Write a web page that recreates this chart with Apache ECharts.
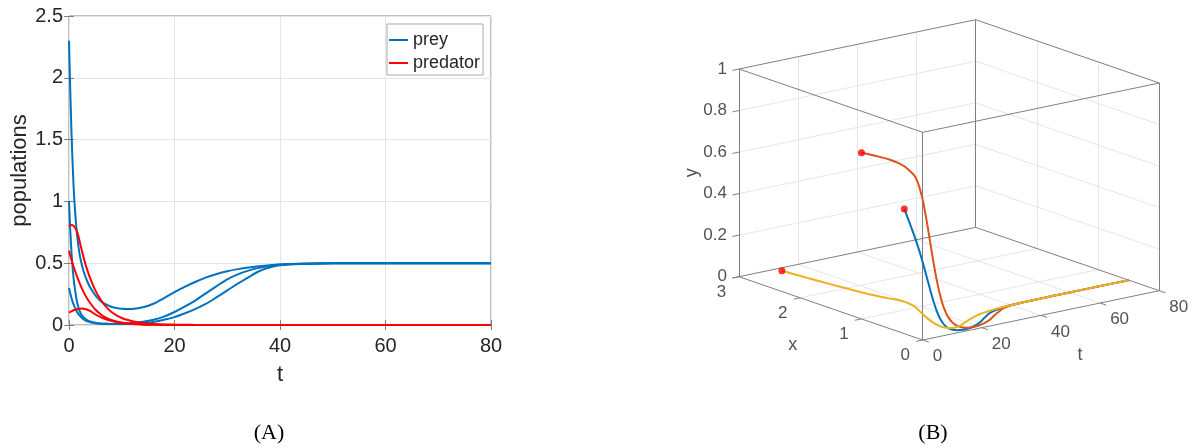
<!DOCTYPE html>
<html>
<head>
<meta charset="utf-8">
<script src="https://cdn.jsdelivr.net/npm/echarts@6/dist/echarts.min.js"></script>
<style>
  html, body { margin: 0; padding: 0; background: #ffffff; }
  #chart { width: 1193px; height: 448px; }
</style>
</head>
<body>
<div id="chart"></div>
<script>
// Sample times of the simulated trajectories
const t = [0, 0.25, 0.5, 0.75, 1, 1.5, 2, 2.5, 3, 3.5, 4, 5, 6, 7, 8, 9, 10, 11, 12,
           14, 16, 18, 20, 22, 24, 26, 28, 30, 32, 34, 36, 38, 40, 45, 50, 60, 70, 80];

// Prey populations, one array per initial condition
const preyA = [2.3, 1.88, 1.52, 1.24, 1.02, 0.74, 0.575, 0.475, 0.405, 0.35, 0.305, 0.24, 0.195, 0.166, 0.148, 0.137, 0.131, 0.129, 0.13,
               0.143, 0.172, 0.218, 0.265, 0.31, 0.35, 0.385, 0.413, 0.435, 0.452, 0.466, 0.476, 0.484, 0.489, 0.496, 0.499, 0.5, 0.5, 0.5];
const preyB = [1.0, 0.76, 0.57, 0.43, 0.33, 0.19, 0.115, 0.075, 0.052, 0.038, 0.029, 0.018, 0.012, 0.0095, 0.008, 0.0075, 0.0075, 0.008, 0.009,
               0.014, 0.025, 0.042, 0.064, 0.095, 0.13, 0.172, 0.225, 0.28, 0.335, 0.385, 0.435, 0.465, 0.483, 0.494, 0.499, 0.5, 0.5, 0.5];
const preyC = [0.3, 0.255, 0.215, 0.18, 0.152, 0.108, 0.077, 0.055, 0.04, 0.03, 0.023, 0.015, 0.011, 0.0095, 0.009, 0.0095, 0.011, 0.013, 0.016,
               0.026, 0.042, 0.068, 0.105, 0.15, 0.2, 0.258, 0.315, 0.37, 0.41, 0.44, 0.462, 0.478, 0.489, 0.497, 0.5, 0.5, 0.5, 0.5];

// Predator populations, same initial conditions
const predA = [0.1, 0.106, 0.112, 0.117, 0.121, 0.127, 0.132, 0.133, 0.13, 0.123, 0.114, 0.085, 0.063, 0.046, 0.034, 0.024, 0.017, 0.012, 0.0085,
               0.0042, 0.002, 0.001, 0.0005, 0.0003, 0.0002, 0.0001, 0, 0, 0, 0, 0, 0, 0, 0, 0, 0, 0, 0];
const predB = [0.8, 0.807, 0.81, 0.806, 0.796, 0.76, 0.68, 0.59, 0.51, 0.44, 0.38, 0.28, 0.205, 0.148, 0.107, 0.078, 0.057, 0.042, 0.031,
               0.017, 0.009, 0.005, 0.003, 0.0015, 0.001, 0.0005, 0.0003, 0.0002, 0.0001, 0, 0, 0, 0, 0, 0, 0, 0, 0];
const predC = [0.6, 0.56, 0.522, 0.487, 0.455, 0.395, 0.34, 0.29, 0.248, 0.21, 0.178, 0.125, 0.087, 0.06, 0.041, 0.028, 0.02, 0.014, 0.01,
               0.005, 0.0025, 0.0012, 0.0006, 0.0003, 0.0002, 0.0001, 0, 0, 0, 0, 0, 0, 0, 0, 0, 0, 0, 0];

// Tick values
const tTicks = [0, 20, 40, 60, 80];
const popTicks = [0, 0.5, 1, 1.5, 2, 2.5];
const xTicks3 = [0, 1, 2, 3];
const yTicks3 = [0, 0.2, 0.4, 0.6, 0.8, 1];
const tTicks3 = [0, 20, 40, 60, 80];

const FONT = '"Liberation Sans", Arial, Helvetica, sans-serif';
const SERIF = '"Liberation Serif", "Times New Roman", serif';
const INK = '#262626';
const FRAME = '#808080';
const GRID_C = '#e6e6e6';
const BLUE = '#0072BD', RED = '#FF0000', ORANGE = '#D95319', YELLOW = '#EDB120';

const pairs = (ys) => t.map((ti, i) => [ti, ys[i]]);

// ---- 3-D box: oblique projection of (t, x, y) onto the page ----
const T_MAX = 80, X_MAX = 3, Y_MAX = 1;
const corner0 = [922.7, 340];    // t = 0, x = 0, y = 0
const cornerT = [1159.3, 290.7]; // t = T_MAX
const cornerX = [739, 276.7];    // x = X_MAX
const boxHeight = 207.7;         // y = Y_MAX
function proj(tv, xv, yv) {
  return [
    corner0[0] + (cornerT[0] - corner0[0]) * tv / T_MAX + (cornerX[0] - corner0[0]) * xv / X_MAX,
    corner0[1] + (cornerT[1] - corner0[1]) * tv / T_MAX + (cornerX[1] - corner0[1]) * xv / X_MAX - boxHeight * yv / Y_MAX
  ];
}
const seg = (a, b) => ({ coords: [proj(...a), proj(...b)] });

// box edges
const edges = [];
for (const y of [0, Y_MAX]) {
  edges.push(seg([0, 0, y], [T_MAX, 0, y]), seg([0, 0, y], [0, X_MAX, y]),
             seg([T_MAX, 0, y], [T_MAX, X_MAX, y]), seg([0, X_MAX, y], [T_MAX, X_MAX, y]));
}
for (const [tv, xv] of [[0, 0], [T_MAX, 0], [0, X_MAX], [T_MAX, X_MAX]]) {
  edges.push(seg([tv, xv, 0], [tv, xv, Y_MAX]));
}

// grid lines on the two back walls and the floor
const gridSegs = [];
const innerY = yTicks3.filter(v => v > 0 && v < Y_MAX);
const innerX = xTicks3.filter(v => v > 0 && v < X_MAX);
const innerT = tTicks3.filter(v => v > 0 && v < T_MAX);
innerY.forEach(y => { gridSegs.push(seg([0, X_MAX, y], [T_MAX, X_MAX, y]), seg([T_MAX, 0, y], [T_MAX, X_MAX, y])); });
innerT.forEach(tv => { gridSegs.push(seg([tv, X_MAX, 0], [tv, X_MAX, Y_MAX]), seg([tv, 0, 0], [tv, X_MAX, 0])); });
innerX.forEach(xv => { gridSegs.push(seg([T_MAX, xv, 0], [T_MAX, xv, Y_MAX]), seg([0, xv, 0], [T_MAX, xv, 0])); });

// tick marks
const tickSegs = [];
yTicks3.forEach(v => tickSegs.push(seg([0, X_MAX, v], [-2.2, X_MAX, v])));
xTicks3.forEach(v => tickSegs.push(seg([0, v, 0], [-2.2, v, 0])));
tTicks3.forEach(v => tickSegs.push(seg([v, 0, 0], [v, -0.1, 0])));

const labelPoint = (p, text, extra) => ({ value: p, label: Object.assign({ formatter: text }, extra) });
const tickLabels = [];
yTicks3.forEach(v => tickLabels.push(labelPoint(proj(0, X_MAX, v), String(v), { position: [-12, 0], align: 'right', verticalAlign: 'middle' })));
xTicks3.forEach(v => tickLabels.push(labelPoint(proj(0, v, 0), String(v), { position: [-17.5, 15.3], align: 'center', verticalAlign: 'middle' })));
tTicks3.forEach(v => tickLabels.push(labelPoint(proj(v, 0, 0), String(v), { position: [10, 16.5], align: 'left', verticalAlign: 'middle' })));
tickLabels.push(labelPoint(proj(0, X_MAX, Y_MAX / 2), 'y', { position: [-47, 0], align: 'center', verticalAlign: 'middle', rotate: 90, fontSize: 18 }));
tickLabels.push(labelPoint(proj(0, X_MAX / 2, 0), 'x', { position: [-38, 36.7], align: 'center', verticalAlign: 'middle', fontSize: 18 }));
tickLabels.push(labelPoint(proj(T_MAX / 2, 0, 0), 't', { position: [39, 39.6], align: 'center', verticalAlign: 'middle', fontSize: 18 }));

const path3 = (prey, pred) => t.map((ti, i) => proj(ti, prey[i], pred[i]));
const starts3 = [[preyC, predC], [preyB, predB], [preyA, predA]].map(([x, y]) => proj(0, x[0], y[0]));

const curve2 = (name, ys, color) => ({
  type: 'line', name, data: pairs(ys), xAxisIndex: 0, yAxisIndex: 0,
  symbol: 'none', smooth: 0.3, lineStyle: { color, width: 2 }, itemStyle: { color }, z: 3
});
const curve3 = (name, prey, pred, color) => ({
  type: 'line', name, data: path3(prey, pred), xAxisIndex: 2, yAxisIndex: 2,
  symbol: 'none', smooth: 0.3, lineStyle: { color, width: 2 }, itemStyle: { color }, z: 4
});

const chart = echarts.init(document.getElementById('chart'));
chart.setOption({
  animation: false,
  backgroundColor: '#ffffff',
  textStyle: { fontFamily: FONT },
  grid: [
    { left: 69, top: 16, width: 422, height: 309, show: true, borderColor: FRAME, borderWidth: 1, backgroundColor: '#fff' },
    { left: 0, top: 0, width: 1193, height: 448, show: false }
  ],
  xAxis: [
    { type: 'value', gridIndex: 0, min: 0, max: 80, interval: 20, name: 't', nameLocation: 'middle', nameGap: 39,
      nameTextStyle: { fontSize: 22, color: INK, fontFamily: FONT },
      axisLine: { show: false }, axisTick: { inside: true, length: 5, lineStyle: { color: FRAME } },
      axisLabel: { fontSize: 20, color: INK, margin: 11, fontFamily: FONT },
      splitLine: { show: true, lineStyle: { color: GRID_C, width: 1 } } },
    { type: 'value', gridIndex: 0, position: 'top', min: 0, max: 80, interval: 20,
      axisLine: { show: false }, axisTick: { inside: true, length: 5, lineStyle: { color: FRAME } },
      axisLabel: { show: false }, splitLine: { show: false } },
    { type: 'value', gridIndex: 1, min: 0, max: 1193, show: false }
  ],
  yAxis: [
    { type: 'value', gridIndex: 0, min: 0, max: 2.5, interval: 0.5, name: 'populations', nameLocation: 'middle', nameGap: 36,
      nameTextStyle: { fontSize: 22, color: INK, fontFamily: FONT },
      axisLine: { show: false }, axisTick: { inside: true, length: 5, lineStyle: { color: FRAME } },
      axisLabel: { fontSize: 20, color: INK, margin: 6, fontFamily: FONT, formatter: v => String(v) },
      splitLine: { show: true, lineStyle: { color: GRID_C, width: 1 } } },
    { type: 'value', gridIndex: 0, position: 'right', min: 0, max: 2.5, interval: 0.5,
      axisLine: { show: false }, axisTick: { inside: true, length: 5, lineStyle: { color: FRAME } },
      axisLabel: { show: false }, splitLine: { show: false } },
    { type: 'value', gridIndex: 1, min: 0, max: 448, inverse: true, show: false }
  ],
  legend: {
    data: ['prey', 'predator'], orient: 'vertical', left: 387, top: 24,
    backgroundColor: '#ffffff', borderColor: '#a8a8a8', borderWidth: 1,
    padding: [6, 3, 2, 2], itemGap: 3, itemWidth: 19, itemHeight: 2, icon: 'rect',
    textStyle: { fontSize: 18, color: INK, fontFamily: FONT, lineHeight: 20 },
    selectedMode: false
  },
  graphic: [
    { type: 'text', x: 269, y: 433, style: { text: '(A)', align: 'center', verticalAlign: 'middle', fontSize: 22, fontFamily: SERIF, fill: '#000' } },
    { type: 'text', x: 933, y: 433, style: { text: '(B)', align: 'center', verticalAlign: 'middle', fontSize: 22, fontFamily: SERIF, fill: '#000' } }
  ],
  series: [
    curve2('prey', preyA, BLUE),
    curve2('prey', preyB, BLUE),
    curve2('prey', preyC, BLUE),
    curve2('predator', predA, RED),
    curve2('predator', predB, RED),
    curve2('predator', predC, RED),
    { type: 'lines', name: 'grid3', coordinateSystem: 'cartesian2d', xAxisIndex: 2, yAxisIndex: 2, silent: true,
      lineStyle: { color: GRID_C, width: 1, opacity: 1 }, data: gridSegs, z: 1 },
    { type: 'lines', name: 'box3', coordinateSystem: 'cartesian2d', xAxisIndex: 2, yAxisIndex: 2, silent: true,
      lineStyle: { color: FRAME, width: 1, opacity: 1 }, data: edges.concat(tickSegs), z: 2 },
    { type: 'scatter', name: 'labels3', xAxisIndex: 2, yAxisIndex: 2, silent: true, symbolSize: 0,
      itemStyle: { color: 'rgba(0,0,0,0)' },
      label: { show: true, fontSize: 17, color: INK, fontFamily: FONT }, data: tickLabels, z: 5 },
    curve3('x0=0.3', preyC, predC, BLUE),
    curve3('x0=1', preyB, predB, ORANGE),
    curve3('x0=2.3', preyA, predA, YELLOW),
    { type: 'scatter', name: 'start3', xAxisIndex: 2, yAxisIndex: 2, symbolSize: 7,
      itemStyle: { color: RED }, data: starts3, z: 6 }
  ]
});
</script>
</body>
</html>
